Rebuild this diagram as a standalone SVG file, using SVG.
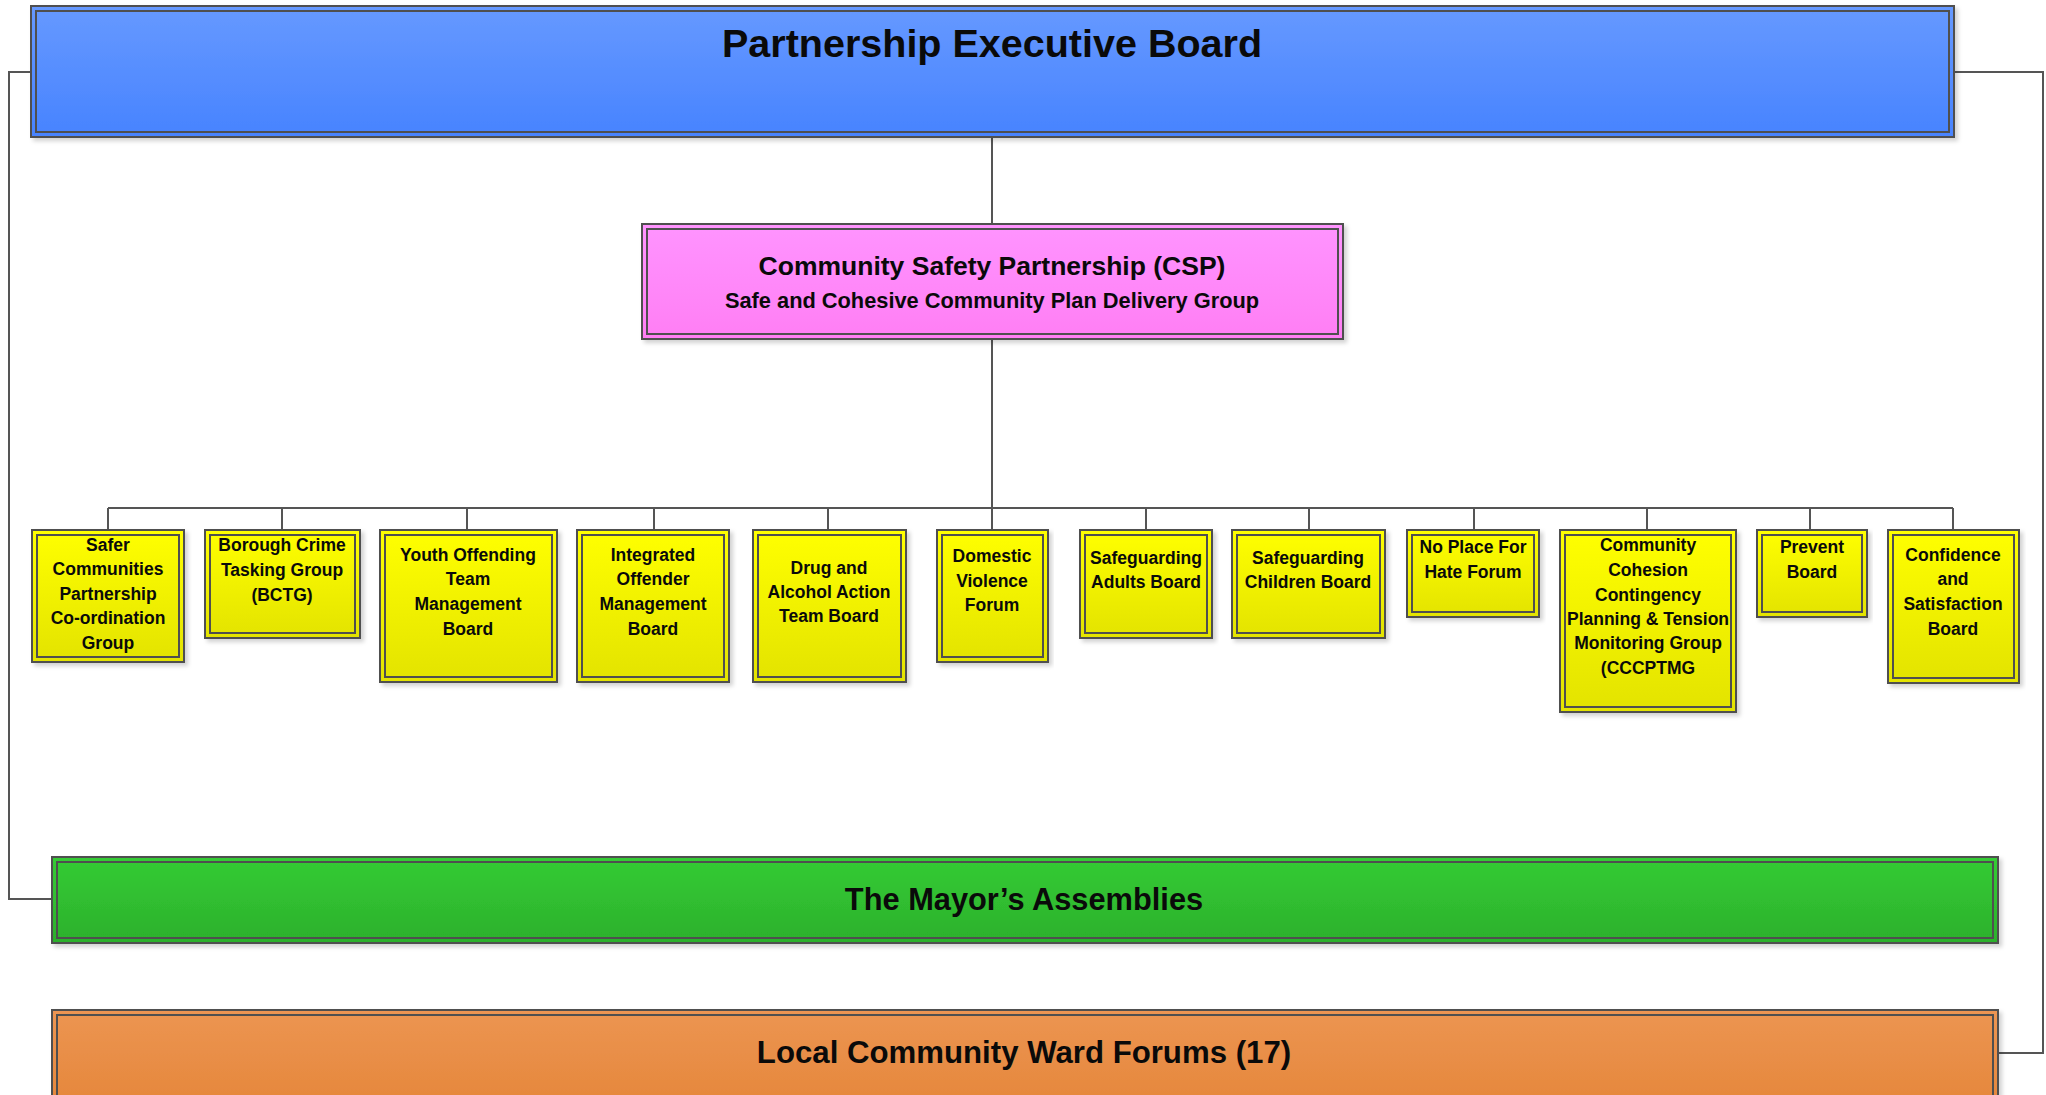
<svg xmlns="http://www.w3.org/2000/svg" width="2046" height="1095" viewBox="0 0 2046 1095">
<style>
  text { font-family: "Liberation Sans", Arial, sans-serif; font-weight: bold; fill: #0a0a0a; text-anchor: middle; }
  .o { stroke: #4f4f4f; stroke-width: 2; filter: url(#sh); }
  .i { fill: none; stroke: #4f4f4f; stroke-width: 2; }
  .yb .o { fill: url(#gy); }
  .yb text { font-size: 17.5px; }
  .conn { fill: none; stroke: #555; stroke-width: 2; }
</style>
<defs>
  <linearGradient id="gy" x1="0" y1="0" x2="0" y2="1"><stop offset="0" stop-color="#ffff00"/><stop offset="1" stop-color="#e3e300"/></linearGradient>
  <linearGradient id="gb" x1="0" y1="0" x2="0" y2="1"><stop offset="0" stop-color="#6699ff"/><stop offset="1" stop-color="#4783ff"/></linearGradient>
  <linearGradient id="gp" x1="0" y1="0" x2="0" y2="1"><stop offset="0" stop-color="#ff94ff"/><stop offset="1" stop-color="#ff7ef4"/></linearGradient>
  <linearGradient id="gg" x1="0" y1="0" x2="0" y2="1"><stop offset="0" stop-color="#34cc34"/><stop offset="1" stop-color="#2cb02c"/></linearGradient>
  <linearGradient id="go" x1="0" y1="0" x2="0" y2="1"><stop offset="0" stop-color="#ec9552"/><stop offset="1" stop-color="#e5863a"/></linearGradient>
  <filter id="sh" x="-5%" y="-5%" width="110%" height="120%"><feDropShadow dx="3" dy="3" stdDeviation="2" flood-color="#000" flood-opacity="0.18"/></filter>
</defs>
<rect width="2046" height="1095" fill="#ffffff"/>

<g id="connectors">
  <path class="conn" d="M31,72 H9 V899 H52"/>
  <path class="conn" d="M1954,72 H2043 V1053 H1998"/>
  <path class="conn" d="M992,137 V224"/>
  <path class="conn" d="M992,339 V508"/>
  <path class="conn" d="M108,508 H1953"/>
  <path class="conn" d="M108,508 V530 M282,508 V530 M467,508 V530 M654,508 V530 M828,508 V530 M992,508 V530 M1146,508 V530 M1309,508 V530 M1474,508 V530 M1647,508 V530 M1810,508 V530 M1953,508 V530"/>
</g>

<g id="partnership-executive-board">
  <rect class="o" x="31" y="6" width="1923" height="131" fill="url(#gb)"/>
  <rect class="i" x="36" y="11" width="1913" height="121"/>
  <text x="992" y="57" font-size="39.5">Partnership Executive Board</text>
</g>

<g id="csp">
  <rect class="o" x="642" y="224" width="701" height="115" fill="url(#gp)"/>
  <rect class="i" x="647" y="229" width="691" height="105"/>
  <text x="992" y="275" font-size="26.5">Community Safety Partnership (CSP)</text>
  <text x="992" y="308" font-size="21.8">Safe and Cohesive Community Plan Delivery Group</text>
</g>

<g id="safer-communities" class="yb">
  <rect class="o" x="32" y="530" width="152" height="132"/>
  <rect class="i" x="37" y="535" width="142" height="122"/>
  <text x="108"><tspan x="108" y="551">Safer</tspan><tspan x="108" y="575">Communities</tspan><tspan x="108" y="600">Partnership</tspan><tspan x="108" y="624">Co-ordination</tspan><tspan x="108" y="649">Group</tspan></text>
</g>
<g id="bctg" class="yb">
  <rect class="o" x="205" y="530" width="155" height="108"/>
  <rect class="i" x="210" y="535" width="145" height="98"/>
  <text x="282"><tspan x="282" y="551">Borough Crime</tspan><tspan x="282" y="576">Tasking Group</tspan><tspan x="282" y="601">(BCTG)</tspan></text>
</g>
<g id="youth-offending" class="yb">
  <rect class="o" x="380" y="530" width="177" height="152"/>
  <rect class="i" x="385" y="535" width="167" height="142"/>
  <text x="468"><tspan x="468" y="561">Youth Offending</tspan><tspan x="468" y="585">Team</tspan><tspan x="468" y="610">Management</tspan><tspan x="468" y="635">Board</tspan></text>
</g>
<g id="integrated-offender" class="yb">
  <rect class="o" x="577" y="530" width="152" height="152"/>
  <rect class="i" x="582" y="535" width="142" height="142"/>
  <text x="653"><tspan x="653" y="561">Integrated</tspan><tspan x="653" y="585">Offender</tspan><tspan x="653" y="610">Management</tspan><tspan x="653" y="635">Board</tspan></text>
</g>
<g id="drug-alcohol" class="yb">
  <rect class="o" x="753" y="530" width="153" height="152"/>
  <rect class="i" x="758" y="535" width="143" height="142"/>
  <text x="829"><tspan x="829" y="574">Drug and</tspan><tspan x="829" y="598">Alcohol Action</tspan><tspan x="829" y="622">Team Board</tspan></text>
</g>
<g id="domestic-violence" class="yb">
  <rect class="o" x="937" y="530" width="111" height="132"/>
  <rect class="i" x="942" y="535" width="101" height="122"/>
  <text x="992"><tspan x="992" y="562">Domestic</tspan><tspan x="992" y="587">Violence</tspan><tspan x="992" y="611">Forum</tspan></text>
</g>
<g id="safeguarding-adults" class="yb">
  <rect class="o" x="1080" y="530" width="132" height="108"/>
  <rect class="i" x="1085" y="535" width="122" height="98"/>
  <text x="1146"><tspan x="1146" y="564">Safeguarding</tspan><tspan x="1146" y="588">Adults Board</tspan></text>
</g>
<g id="safeguarding-children" class="yb">
  <rect class="o" x="1232" y="530" width="153" height="108"/>
  <rect class="i" x="1237" y="535" width="143" height="98"/>
  <text x="1308"><tspan x="1308" y="564">Safeguarding</tspan><tspan x="1308" y="588">Children Board</tspan></text>
</g>
<g id="no-place-for-hate" class="yb">
  <rect class="o" x="1407" y="530" width="132" height="87"/>
  <rect class="i" x="1412" y="535" width="122" height="77"/>
  <text x="1473"><tspan x="1473" y="553">No Place For</tspan><tspan x="1473" y="578">Hate Forum</tspan></text>
</g>
<g id="cccptmg" class="yb">
  <rect class="o" x="1560" y="530" width="176" height="182"/>
  <rect class="i" x="1565" y="535" width="166" height="172"/>
  <text x="1648"><tspan x="1648" y="551">Community</tspan><tspan x="1648" y="576">Cohesion</tspan><tspan x="1648" y="601">Contingency</tspan><tspan x="1648" y="625">Planning &amp; Tension</tspan><tspan x="1648" y="649">Monitoring Group</tspan><tspan x="1648" y="674">(CCCPTMG</tspan></text>
</g>
<g id="prevent-board" class="yb">
  <rect class="o" x="1757" y="530" width="110" height="87"/>
  <rect class="i" x="1762" y="535" width="100" height="77"/>
  <text x="1812"><tspan x="1812" y="553">Prevent</tspan><tspan x="1812" y="578">Board</tspan></text>
</g>
<g id="confidence-satisfaction" class="yb">
  <rect class="o" x="1888" y="530" width="131" height="153"/>
  <rect class="i" x="1893" y="535" width="121" height="143"/>
  <text x="1953"><tspan x="1953" y="561">Confidence</tspan><tspan x="1953" y="585">and</tspan><tspan x="1953" y="610">Satisfaction</tspan><tspan x="1953" y="635">Board</tspan></text>
</g>

<g id="mayors-assemblies">
  <rect class="o" x="52" y="857" width="1946" height="86" fill="url(#gg)"/>
  <rect class="i" x="57" y="862" width="1936" height="76"/>
  <text x="1024" y="910" font-size="30.8">The Mayor’s Assemblies</text>
</g>

<g id="local-ward-forums">
  <rect class="o" x="52" y="1010" width="1946" height="100" fill="url(#go)"/>
  <rect class="i" x="57" y="1015" width="1936" height="90"/>
  <text x="1024" y="1063" font-size="31.2">Local Community Ward Forums (17)</text>
</g>
</svg>
